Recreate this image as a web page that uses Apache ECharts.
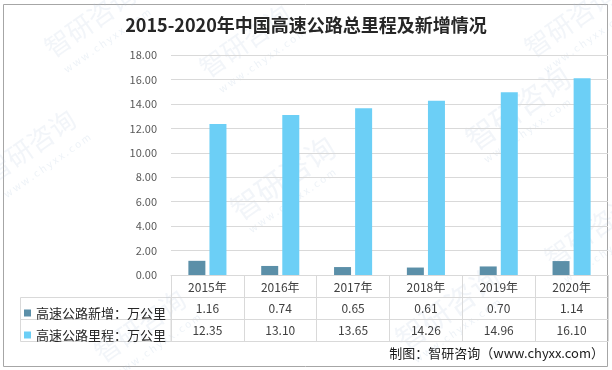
<!DOCTYPE html>
<html>
<head>
<meta charset="utf-8">
<script src="https://cdn.jsdelivr.net/npm/echarts@6/dist/echarts.min.js"></script>
<style>
html,body{margin:0;padding:0;background:#fff;}
#c{width:612px;height:370px;}
</style>
</head>
<body>
<div id="c"></div>
<script>
var categories = ['2015年','2016年','2017年','2018年','2019年','2020年'];
var addedValues = [1.16, 0.74, 0.65, 0.61, 0.70, 1.14];
var totalValues = [12.35, 13.10, 13.65, 14.26, 14.96, 16.10];
var seriesNames = ['高速公路新增：万公里','高速公路里程：万公里'];
var yTicks = { min: 0, max: 18, interval: 2 };
var titleText = '2015-2020年中国高速公路总里程及新增情况';
var sourceText = '制图：智研咨询（www.chyxx.com）';

var FONT = '"Microsoft YaHei","Noto Sans CJK SC","DejaVu Sans",sans-serif';
var lineColor = '#D9D9D9';
var textColor = '#404040';

var chart = echarts.init(document.getElementById('c'), null, {renderer:'canvas'});

function wm(x, y, big) {
  var rot = 35 * Math.PI / 180;
  return [
    { type:'text', x:x, y:y, rotation:rot, silent:true, z:0,
      style:{ text:'智研咨询', font:(big?30:26) + 'px ' + FONT, fill:'rgba(175,195,220,0.16)' } },
    { type:'text', x:x+22, y:y+26, rotation:rot, silent:true, z:0,
      style:{ text:'w w w . c h y x x . c o m', font:'10px ' + FONT, fill:'rgba(175,195,220,0.22)' } }
  ];
}

var graphics = [
  { type:'rect', shape:{x:3.5, y:4.5, width:604, height:362}, style:{fill:null, stroke:'#A6A6A6', lineWidth:1}, silent:true },
  { type:'rect', shape:{x:20.5, y:297.5, width:150.5, height:44}, style:{fill:null, stroke:lineColor, lineWidth:1}, silent:true },
  { type:'line', shape:{x1:20.5, y1:319.5, x2:171, y2:319.5}, style:{stroke:lineColor, lineWidth:1}, silent:true },
  { type:'text', right:8, top:347, style:{ text:sourceText, font:'13px ' + FONT, fill:'#1a1a1a' } }
];
graphics = graphics.concat(wm(40,40,false), wm(195,60,false), wm(-20,165,false), wm(225,200,true),
  wm(460,130,true), wm(520,40,false), wm(90,345,false), wm(390,330,true), wm(540,250,false));

var axisLabelFmt = function(arr){ return function(v, i){ return arr[i].toFixed(2); }; };

var option = {
  animation:false,
  backgroundColor:'#fff',
  textStyle:{ fontFamily: FONT },
  title:{ text:titleText, left:'center', top:11,
    textStyle:{ fontSize:18, fontWeight:'bold', color:'#262626', fontFamily:FONT } },
  grid:{ left:171, right:4, top:55, bottom:95, containLabel:false },
  legend:{
    orient:'vertical', left:19, top:301, itemGap:8, itemWidth:7, itemHeight:7, icon:'rect',
    textStyle:{ fontSize:13, color:'#262626', lineHeight:14 },
    data: seriesNames, selectedMode:false
  },
  xAxis:[
    { type:'category', data:categories, position:'bottom', offset:0,
      axisLine:{ show:true, lineStyle:{color:lineColor} },
      axisTick:{ show:true, length:66, inside:false, lineStyle:{color:lineColor} },
      axisLabel:{ fontSize:12, color:textColor, margin:6 } },
    { type:'category', data:categories, position:'bottom', offset:22,
      axisLine:{ show:true, lineStyle:{color:lineColor} }, axisTick:{show:false},
      axisLabel:{ fontSize:12, color:textColor, margin:5, formatter: axisLabelFmt(addedValues) } },
    { type:'category', data:categories, position:'bottom', offset:44,
      axisLine:{ show:true, lineStyle:{color:lineColor} }, axisTick:{show:false},
      axisLabel:{ fontSize:12, color:textColor, margin:5, formatter: axisLabelFmt(totalValues) } },
    { type:'category', data:categories, position:'bottom', offset:66,
      axisLine:{ show:true, lineStyle:{color:lineColor} }, axisTick:{show:false},
      axisLabel:{ show:false } }
  ],
  yAxis:{
    type:'value', min:yTicks.min, max:yTicks.max, interval:yTicks.interval,
    axisLine:{show:false}, axisTick:{show:false},
    axisLabel:{ fontSize:11, color:'#595959', margin:14, formatter:function(v){ return v.toFixed(2); } },
    splitLine:{ lineStyle:{ color:lineColor } }
  },
  series:[
    { name:seriesNames[0], type:'bar', data:addedValues, barWidth:17, barGap:'24%',
      itemStyle:{ color:'#5B8FA8' } },
    { name:seriesNames[1], type:'bar', data:totalValues, barWidth:17,
      itemStyle:{ color:'#6CCFF6' } }
  ],
  graphic: graphics
};
chart.setOption(option);
</script>
</body>
</html>
